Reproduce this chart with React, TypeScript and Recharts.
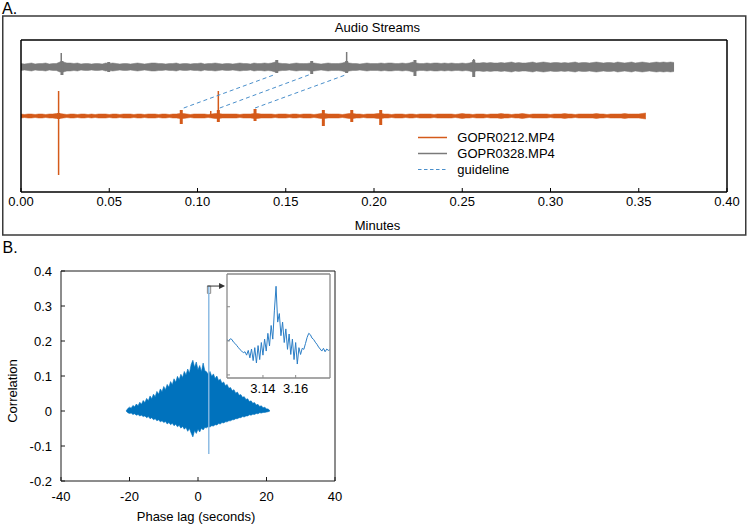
import React from 'react';
import {
  ComposedChart,
  Area,
  Line,
  XAxis,
  YAxis,
  ReferenceLine,
  ReferenceArea,
  ReferenceDot,
} from 'recharts';

const FONT = '"Liberation Sans", Arial, Helvetica, sans-serif';

// ---------------- Panel A : audio streams ----------------
const minuteTicks = [0, 0.05, 0.1, 0.15, 0.2, 0.25, 0.3, 0.35, 0.4];
const sampleStepMin = 0.002; // envelope sampling grid (minutes)

// half-height of the GOPR0328 (gray) envelope, every 0.002 min
const grayAmp = [
  3.5, 3, 3.5, 4, 3, 3.5, 3.5, 4, 3, 3.5,
  3.5, 5, 5, 4, 4, 3.5, 4, 3, 3.5, 3.5,
  3, 3.5, 3.5, 3, 4, 3.5, 4, 3.5, 3, 3.5,
  3.5, 3, 3.5, 4, 3.5, 3, 3.5, 4, 4, 3.5,
  3.5, 3, 3.5, 3.5, 4, 3, 3.5, 3.5, 3, 3.5,
  3.5, 4, 3, 3.5, 3.5, 4, 3.5, 3, 3.5, 3.5,
  3, 3.5, 4, 3.5, 3.5, 3, 4, 3.5, 3.5, 4,
  3.5, 4, 5, 4, 3.5, 3.5, 3, 3.5, 4, 3.5,
  3.5, 3.5, 4, 4, 3.5, 3, 3.5, 4, 3.5, 3.5,
  3.5, 4, 5, 4, 3.5, 3.5, 3, 3.5, 4, 3.5,
  3.5, 3.5, 4, 3.5, 4, 4, 3.5, 3.5, 4, 3.5,
  4, 5, 4, 3.5, 3.5, 4, 3.5, 4, 4, 3.5,
  4, 3.5, 4, 3.5, 3.5, 4, 3.5, 4, 5, 4,
  4, 4.5, 4, 4.5, 4, 4, 4.5, 4, 4.5, 5,
  4, 4.5, 4, 4, 4.5, 5, 4, 4.5, 5, 4.5,
  4, 4.5, 4.5, 4, 4.5, 4, 4.5, 5, 4, 4.5,
  4.5, 4, 4.5, 5, 4.5, 4, 4.5, 4.5, 4, 5,
  4.5, 4, 4.5, 5, 4, 4.5, 5, 4.5, 4, 4.5,
  5, 4.5, 5, 4.5, 5, 4.5,
];

// half-height of the GOPR0212 (orange) envelope, every 0.002 min
const orangeAmp = [
  2, 1.5, 2, 2, 1.5, 2, 2, 1.5, 2, 2,
  2.5, 2.5, 2, 1.5, 2, 2, 1.5, 2, 2, 1.5,
  2, 1.5, 2, 2, 2, 1.5, 2, 2, 1.5, 2,
  2, 2, 1.5, 2, 2, 1.5, 2, 2, 2, 1.5,
  2, 2, 1.5, 2, 2, 2.5, 2.5, 2, 1.5, 2,
  2, 2, 2, 1.5, 2, 2.5, 2.5, 2, 2, 2,
  2, 2, 1.5, 2, 2, 2, 2.5, 2.5, 2, 2,
  2, 2, 1.5, 2, 2, 2, 1.5, 2, 2, 1.5,
  2, 2, 2, 1.5, 2, 2.5, 2.5, 2, 2, 2,
  2, 1.5, 2, 2.5, 2.5, 2, 2, 1.5, 2, 2,
  2, 2.5, 2.5, 2, 2, 1.5, 2, 2, 2, 1.5,
  2, 2, 1.5, 2, 2, 2, 2, 1.5, 2, 2,
  2, 2, 2, 1.5, 2, 2.5, 2, 2, 1.5, 2,
  2, 2, 1.5, 2, 2, 2, 2.5, 2, 2, 1.5,
  2, 2, 2.5, 2, 1.5, 2, 2, 2, 2, 2,
  1.5, 2, 2, 2, 2.5, 2, 2, 1.5, 2, 2,
  2, 2, 2, 2.5, 2, 2, 1.5, 2, 2, 2,
  2, 2.5, 2, 2, 2, 2, 2.5, 3,
];

const grayOffset = 49; // vertical offset of the gray trace

// short bursts (a few samples wide): time (min), peak up, peak down
const grayBurstT = [0.0232, 0.0497, 0.1449, 0.1647, 0.1845, 0.2232, 0.2565];
const grayBurstHi = [6, 5, 7, 6, 6, 7, 7];
const grayBurstLo = [-8, -5, -6, -7, -6, -9, -10];
// single-sample spikes
const graySpikeT = [0.0228, 0.1845, 0.2565];
const graySpikeHi = [14, 15, 8];
const graySpikeLo = [-5, -4, -5];

const orangeBurstT = [0.0213, 0.0908, 0.1118, 0.1326, 0.1713, 0.1874, 0.2038];
const orangeBurstHi = [3, 6, 6, 7, 6, 6, 6];
const orangeBurstLo = [-3, -8, -6, -5, -10, -6, -9];
const orangeSpikeT = [0.0213, 0.1075, 0.1118];
const orangeSpikeHi = [25, 5, 25];
const orangeSpikeLo = [-59, -1, -3];

// guidelines: from orange event to matching gray event
const guideFrom = [0.0922, 0.1126, 0.1326];
const guideTo = [0.1439, 0.1637, 0.1845];
const guideLow = 8;
const guideHigh = 41.5;

const grayRows = grayAmp.map((a, i) => ({
  t: i * sampleStepMin,
  band: [grayOffset - a, grayOffset + a],
}));
const orangeRows = orangeAmp.map((a, i) => ({
  t: i * sampleStepMin,
  band: [-a, a],
}));

// ---------------- Panel B : cross-correlation ----------------
const lagTicks = [-40, -20, 0, 20, 40];
const corrTicks = [-0.2, -0.1, 0, 0.1, 0.2, 0.3, 0.4];
const lagStart = -21;
const lagStep = 0.5;

const corrUpper = [
  0, 0.007, 0.011, 0.008, 0.016, 0.012, 0.02, 0.015, 0.025, 0.019,
  0.03, 0.024, 0.036, 0.029, 0.043, 0.035, 0.048, 0.041, 0.056, 0.048,
  0.063, 0.055, 0.07, 0.061, 0.076, 0.068, 0.084, 0.075, 0.092, 0.082,
  0.099, 0.089, 0.105, 0.096, 0.113, 0.103, 0.12, 0.108, 0.133, 0.145,
  0.125, 0.14, 0.118, 0.13, 0.112, 0.137, 0.115, 0.112, 0.104, 0.113,
  0.099, 0.106, 0.093, 0.1, 0.087, 0.091, 0.079, 0.083, 0.072, 0.076,
  0.065, 0.067, 0.058, 0.061, 0.051, 0.054, 0.045, 0.047, 0.039, 0.041,
  0.033, 0.035, 0.027, 0.029, 0.022, 0.024, 0.017, 0.019, 0.013, 0.015,
  0.009, 0.011, 0.006, 0.006, 0,
];
const corrLower = [
  0, -0.005, -0.007, -0.006, -0.01, -0.008, -0.012, -0.01, -0.014, -0.012,
  -0.016, -0.014, -0.019, -0.016, -0.022, -0.019, -0.025, -0.022, -0.028, -0.025,
  -0.031, -0.028, -0.033, -0.03, -0.037, -0.033, -0.039, -0.035, -0.042, -0.038,
  -0.045, -0.041, -0.049, -0.044, -0.052, -0.047, -0.058, -0.05, -0.063, -0.074,
  -0.056, -0.064, -0.052, -0.06, -0.049, -0.054, -0.047, -0.048, -0.044, -0.046,
  -0.042, -0.043, -0.039, -0.04, -0.036, -0.037, -0.033, -0.034, -0.031, -0.031,
  -0.028, -0.028, -0.025, -0.025, -0.022, -0.022, -0.019, -0.019, -0.016, -0.017,
  -0.014, -0.014, -0.011, -0.012, -0.009, -0.01, -0.007, -0.008, -0.005, -0.006,
  -0.004, -0.004, -0.003, -0.002, 0,
];
const corrRows = corrUpper.map((u, i) => ({
  lag: lagStart + i * lagStep,
  band: [corrLower[i], u],
}));

// the true-offset peak
const peakLag = 3.15;
const peakRange = [-0.123, 0.357];
const peakRows = peakRange.map((c) => ({ lag: peakLag, c }));

// zoom marker box and arrow
const markerLag = [2.74, 3.7];
const markerCorr = [0.336, 0.357];
const arrowLag = [2.74, 7.4, 7.9];

// inset: zoom around the peak
const insetLagTicks = [3.14, 3.16];
const insetCorrTicks = [0.1, 0.2, 0.3];
const insetLagStart = 3.118;
const insetLagStep = 0.001;
const insetCorr = [
  0.203, 0.2, 0.206, 0.204, 0.196, 0.192, 0.186, 0.18, 0.174, 0.17,
  0.165, 0.168, 0.158, 0.172, 0.15, 0.176, 0.142, 0.18, 0.135, 0.186,
  0.145, 0.195, 0.158, 0.205, 0.17, 0.222, 0.185, 0.245, 0.205, 0.29,
  0.36, 0.255, 0.28, 0.215, 0.255, 0.195, 0.235, 0.175, 0.22, 0.16,
  0.205, 0.145, 0.195, 0.132, 0.18, 0.16, 0.178, 0.175, 0.192, 0.21,
  0.222, 0.218, 0.208, 0.204, 0.196, 0.19, 0.182, 0.176, 0.17, 0.178,
  0.168, 0.176, 0.172, 0.174,
];
const insetRows = insetCorr.map((c, i) => ({
  lag: insetLagStart + i * insetLagStep,
  c,
}));

// ---------------- styles ----------------
const ORANGE = '#D45A1A';
const GRAY = '#7a7a7a';
const GUIDE = '#4A8FCB';
const BLUE = '#0072BD';
const SPIKE_BLUE = '#86B7E2';
const INSET_BLUE = '#2B7EC6';
const AXIS = '#1a1a1a';

const tickFont = { fill: '#000', fontSize: 13, fontFamily: FONT };
const noLabel = () => <g />;

const Arrowhead = (props: any) => {
  const { cx, cy } = props;
  if (cx == null || cy == null) return <g />;
  return <path d={`M${cx - 6},${cy - 3} L${cx},${cy} L${cx - 6},${cy + 3} Z`} fill="#333" />;
};

function PanelA() {
  const frame = { stroke: '#000', strokeWidth: 1.5 };
  return (
    <ComposedChart width={748} height={240} margin={{ top: 39, right: 20, bottom: 28, left: 20 }}>
      <XAxis
        dataKey="t"
        type="number"
        domain={[0, 0.4]}
        ticks={minuteTicks}
        interval={0}
        allowDataOverflow
        height={20}
        tickSize={-4}
        tickMargin={9}
        tickFormatter={(v: number) => v.toFixed(2)}
        tick={tickFont}
        axisLine={frame}
        tickLine={{ stroke: '#000' }}
      />
      <XAxis
        xAxisId="top"
        orientation="top"
        dataKey="t"
        type="number"
        domain={[0, 0.4]}
        ticks={minuteTicks}
        interval={0}
        height={1}
        tickSize={-4}
        tick={noLabel}
        axisLine={frame}
        tickLine={{ stroke: '#000' }}
      />
      <YAxis type="number" domain={[-76, 76]} width={1} tick={false} tickLine={false} axisLine={frame} allowDataOverflow />
      <YAxis yAxisId="right" orientation="right" type="number" domain={[-76, 76]} width={1} tick={false} tickLine={false} axisLine={frame} />
      <Area
        data={grayRows}
        dataKey="band"
        type="linear"
        stroke={GRAY}
        strokeWidth={0.5}
        fill={GRAY}
        fillOpacity={1}
        dot={false}
        activeDot={false}
        isAnimationActive={false}
      />
      {grayBurstT.map((t, i) => (
        <ReferenceLine
          key={`gb${i}`}
          segment={[
            { x: t, y: grayOffset + grayBurstLo[i] },
            { x: t, y: grayOffset + grayBurstHi[i] },
          ]}
          stroke={GRAY}
          strokeWidth={3}
        />
      ))}
      {graySpikeT.map((t, i) => (
        <ReferenceLine
          key={`gs${i}`}
          segment={[
            { x: t, y: grayOffset + graySpikeLo[i] },
            { x: t, y: grayOffset + graySpikeHi[i] },
          ]}
          stroke={GRAY}
          strokeWidth={1.5}
        />
      ))}
      <Area
        data={orangeRows}
        dataKey="band"
        type="linear"
        stroke={ORANGE}
        strokeWidth={0.5}
        fill={ORANGE}
        fillOpacity={1}
        dot={false}
        activeDot={false}
        isAnimationActive={false}
      />
      {orangeBurstT.map((t, i) => (
        <ReferenceLine
          key={`ob${i}`}
          segment={[
            { x: t, y: orangeBurstLo[i] },
            { x: t, y: orangeBurstHi[i] },
          ]}
          stroke={ORANGE}
          strokeWidth={3}
        />
      ))}
      {orangeSpikeT.map((t, i) => (
        <ReferenceLine
          key={`os${i}`}
          segment={[
            { x: t, y: orangeSpikeLo[i] },
            { x: t, y: orangeSpikeHi[i] },
          ]}
          stroke={ORANGE}
          strokeWidth={1.5}
        />
      ))}
      {guideFrom.map((t, i) => (
        <ReferenceLine
          key={`gl${i}`}
          segment={[
            { x: t, y: guideLow },
            { x: guideTo[i], y: guideHigh },
          ]}
          stroke={GUIDE}
          strokeWidth={1}
          strokeDasharray="4 3"
        />
      ))}
    </ComposedChart>
  );
}

function PanelB() {
  return (
    <ComposedChart width={360} height={286} margin={{ top: 30, right: 24, bottom: 25, left: 60 }}>
      <XAxis
        dataKey="lag"
        type="number"
        domain={[-40, 40]}
        ticks={lagTicks}
        interval={0}
        allowDataOverflow
        height={20}
        tickSize={-4}
        tickMargin={15}
        tick={tickFont}
        axisLine={{ stroke: AXIS }}
        tickLine={{ stroke: AXIS }}
      />
      <XAxis
        xAxisId="top"
        orientation="top"
        dataKey="lag"
        type="number"
        domain={[-40, 40]}
        ticks={lagTicks}
        interval={0}
        height={1}
        tickSize={-4}
        tick={noLabel}
        axisLine={{ stroke: AXIS }}
        tickLine={{ stroke: AXIS }}
      />
      <YAxis
        type="number"
        domain={[-0.2, 0.4]}
        ticks={corrTicks}
        interval={0}
        allowDataOverflow
        width={1}
        tickSize={-4}
        tickMargin={13}
        tick={tickFont}
        axisLine={{ stroke: AXIS }}
        tickLine={{ stroke: AXIS }}
      />
      <YAxis
        yAxisId="right"
        orientation="right"
        type="number"
        domain={[-0.2, 0.4]}
        ticks={corrTicks}
        interval={0}
        width={1}
        tickSize={-4}
        tick={noLabel}
        axisLine={{ stroke: AXIS }}
        tickLine={{ stroke: AXIS }}
      />
      <Area
        data={corrRows}
        dataKey="band"
        type="linear"
        stroke={BLUE}
        strokeWidth={0.6}
        fill={BLUE}
        fillOpacity={1}
        dot={false}
        activeDot={false}
        isAnimationActive={false}
      />
      <Line
        data={peakRows}
        dataKey="c"
        type="linear"
        stroke={SPIKE_BLUE}
        strokeWidth={1.4}
        dot={false}
        activeDot={false}
        isAnimationActive={false}
      />
      <ReferenceArea
        x1={markerLag[0]}
        x2={markerLag[1]}
        y1={markerCorr[0]}
        y2={markerCorr[1]}
        fill="none"
        fillOpacity={0}
        stroke="#8a8a8a"
        strokeWidth={1}
      />
      <ReferenceLine
        segment={[
          { x: arrowLag[0], y: markerCorr[1] },
          { x: arrowLag[1], y: markerCorr[1] },
        ]}
        stroke="#333"
        strokeWidth={1}
      />
      <ReferenceDot x={arrowLag[2]} y={markerCorr[1]} r={3} shape={Arrowhead} />
    </ComposedChart>
  );
}

function Inset() {
  const frame = '#8a8a8a';
  return (
    <ComposedChart width={123} height={132} margin={{ top: 3, right: 9, bottom: 10, left: 9 }}>
      <XAxis
        dataKey="lag"
        type="number"
        domain={[3.118, 3.181]}
        ticks={insetLagTicks}
        interval={0}
        allowDataOverflow
        height={14}
        tickSize={-3}
        tickMargin={9}
        tick={tickFont}
        axisLine={{ stroke: frame, strokeWidth: 1.3 }}
        tickLine={{ stroke: frame }}
      />
      <XAxis
        xAxisId="top"
        orientation="top"
        dataKey="lag"
        type="number"
        domain={[3.118, 3.181]}
        ticks={insetLagTicks}
        interval={0}
        height={1}
        tickSize={-3}
        tick={noLabel}
        axisLine={{ stroke: frame, strokeWidth: 1.3 }}
        tickLine={{ stroke: frame }}
      />
      <YAxis
        type="number"
        domain={[0.091, 0.396]}
        ticks={insetCorrTicks}
        interval={0}
        allowDataOverflow
        width={1}
        tickSize={-3}
        tick={noLabel}
        axisLine={{ stroke: frame, strokeWidth: 1.3 }}
        tickLine={{ stroke: frame }}
      />
      <YAxis
        yAxisId="right"
        orientation="right"
        type="number"
        domain={[0.091, 0.396]}
        ticks={insetCorrTicks}
        interval={0}
        width={1}
        tickSize={-3}
        tick={noLabel}
        axisLine={{ stroke: frame, strokeWidth: 1.3 }}
        tickLine={{ stroke: frame }}
      />
      <Line
        data={insetRows}
        dataKey="c"
        type="linear"
        stroke={INSET_BLUE}
        strokeWidth={1}
        dot={false}
        activeDot={false}
        isAnimationActive={false}
      />
    </ComposedChart>
  );
}

export default function App() {
  const txt = { fontFamily: FONT, fill: '#000' } as const;
  return (
    <div style={{ position: 'absolute', left: 0, top: 0, width: 748, height: 526, background: '#fff', overflow: 'hidden' }}>
      <svg width={748} height={526} style={{ position: 'absolute', left: 0, top: 0 }}>
        <text x={2} y={14} fontSize={16} {...txt}>A.</text>
        <rect x={2.75} y={16} width={743} height={219} fill="none" stroke="#3a3a3a" strokeWidth={1.5} />
        <text x={377.5} y={32} fontSize={13} textAnchor="middle" {...txt}>Audio Streams</text>
        <text x={377.5} y={230} fontSize={13} textAnchor="middle" {...txt}>Minutes</text>
        <line x1={418} x2={447} y1={137.5} y2={137.5} stroke={ORANGE} strokeWidth={1.5} />
        <line x1={418} x2={447} y1={153.5} y2={153.5} stroke={GRAY} strokeWidth={1.5} />
        <line x1={418} x2={447} y1={169.5} y2={169.5} stroke={GUIDE} strokeWidth={1} strokeDasharray="3.5 2.5" />
        <text x={457.3} y={142} fontSize={13} {...txt}>GOPR0212.MP4</text>
        <text x={457.3} y={158} fontSize={13} {...txt}>GOPR0328.MP4</text>
        <text x={457.3} y={173.5} fontSize={13} {...txt}>guideline</text>
        <text x={2.5} y={253} fontSize={16} {...txt}>B.</text>
        <text x={196} y={521} fontSize={13} textAnchor="middle" {...txt}>Phase lag (seconds)</text>
        <text x={16.5} y={391} fontSize={13} textAnchor="middle" transform="rotate(-90 16.5 391)" {...txt}>Correlation</text>
      </svg>
      <div style={{ position: 'absolute', left: 0, top: 0 }}>
        <PanelA />
      </div>
      <div style={{ position: 'absolute', left: 0, top: 240 }}>
        <PanelB />
      </div>
      <div style={{ position: 'absolute', left: 227, top: 274, width: 103, height: 104, background: '#fff' }} />
      <div style={{ position: 'absolute', left: 217, top: 270 }}>
        <Inset />
      </div>
    </div>
  );
}
